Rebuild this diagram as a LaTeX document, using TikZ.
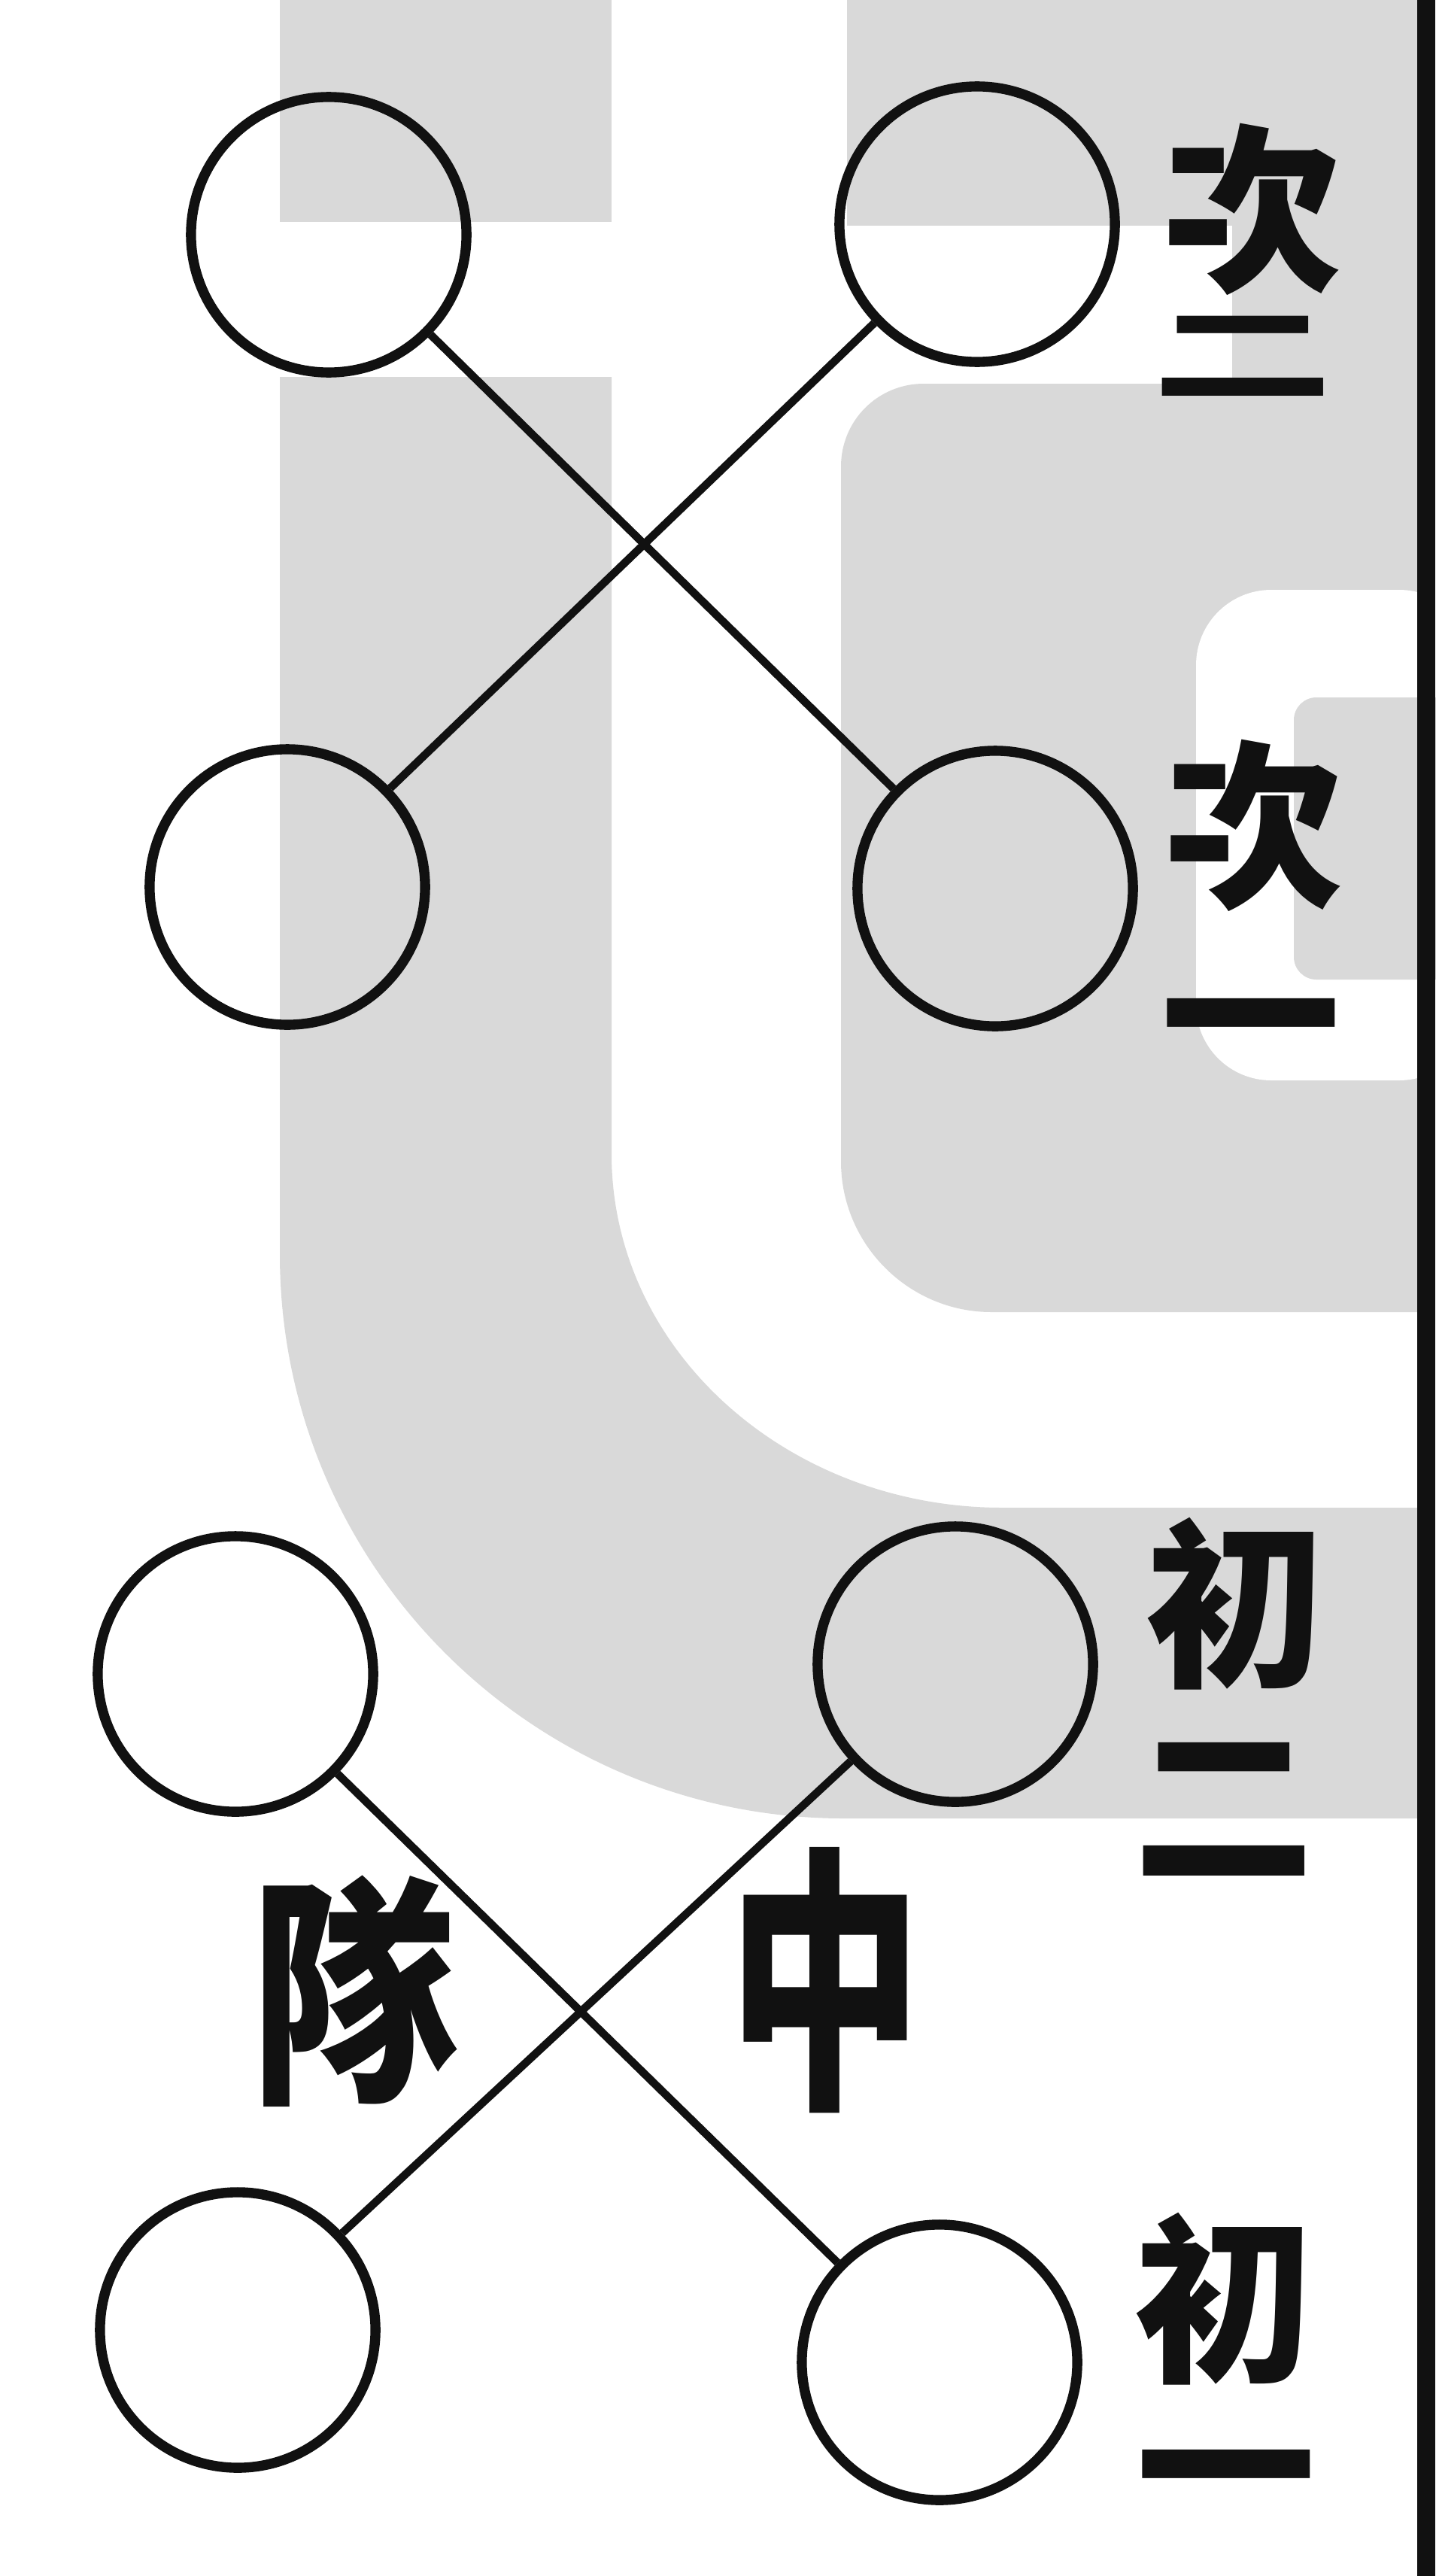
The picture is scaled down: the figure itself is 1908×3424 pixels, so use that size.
\documentclass[tikz,border=0pt]{standalone}
\usepackage{graphicx}
\usepackage{fontspec}
\newfontfamily\cjk{Noto Sans CJK TC}
\usetikzlibrary{positioning}
\definecolor{ink}{HTML}{111111}
\definecolor{wash}{HTML}{D9D9D9}
\tikzset{
  man/.style={circle,draw=ink,line width=3.8pt,minimum size=3.66cm,inner sep=0pt},
  link/.style={draw=ink,line width=3pt},
  tag/.style={font=\cjk\bfseries\fontsize{68}{68}\selectfont,text=ink,inner sep=0pt},
  title/.style={font=\cjk\bfseries\fontsize{92}{92}\selectfont,text=ink,inner sep=0pt},
}

\begin{document}
\begin{tikzpicture}[x=0.01cm,y=-0.01cm]
  \useasboundingbox (0,0) rectangle (1908,3424);
  % grey wash behind the figure
  \fill[wash] (372,0) rectangle (813,295);
  \fill[wash] (1126,0) rectangle (1885,300);
  \fill[wash] (1638,290) rectangle (1885,520);
  \fill[wash] (372,501) -- (813,501) -- (813,1534)
    .. controls (813,1794) and (1046,2004) .. (1333,2004) -- (1885,2004)
    -- (1885,2417) -- (1122,2417) .. controls (708,2417) and (372,2081) .. (372,1667) -- cycle;
  \fill[wash] (1885,510) -- (1228,510) .. controls (1167,510) and (1118,559) .. (1118,620)
    -- (1118,1544) .. controls (1118,1654) and (1208,1744) .. (1318,1744) -- (1885,1744) -- cycle;
  \fill[white,rounded corners=1cm] (1590,784) rectangle (1960,1436);
  \fill[wash,rounded corners=0.3cm] (1720,927) rectangle (1960,1302);
  % page rule
  \fill[ink] (1884,0) rectangle (1908,3424);

  % the eight men
  \foreach \nm/\x/\y in {ci2l/437/312, ci2r/1299/298, ci1l/382/1179, ci1r/1323/1181,
                         chu2l/313/2225, chu2r/1270/2212, chu1l/316/3097, chu1r/1249/3140}
    \node[man] (\nm) at (\x,\y) {};

  \draw[link] (ci2l) -- (ci1r);
  \draw[link] (ci2r) -- (ci1l);
  \draw[link] (chu2l) -- (chu1r);
  \draw[link] (chu2r) -- (chu1l);

  % rank labels
  \foreach \nm/\x/\y/\t in {ci2a/1665/278/次, ci1a/1667/1097/次, ci1b/1663/1383/一,
                            chu2a/1642/2132/初, chu2b/1627/2405/二, chu1a/1627/3056/初, chu1b/1630/3312/一}
    \node[tag] (\nm) at (\x,\y) {\t};
  \node[tag] (ci2b) at (1652,473) {\scalebox{1}[0.6]{二}};

  \node[title] (dui) at (470,2647) {\scalebox{0.85}[1]{隊}};
  \node[title] (zhong) at (1097,2632) {\scalebox{0.8}[1.15]{中}};
\end{tikzpicture}
\end{document}
